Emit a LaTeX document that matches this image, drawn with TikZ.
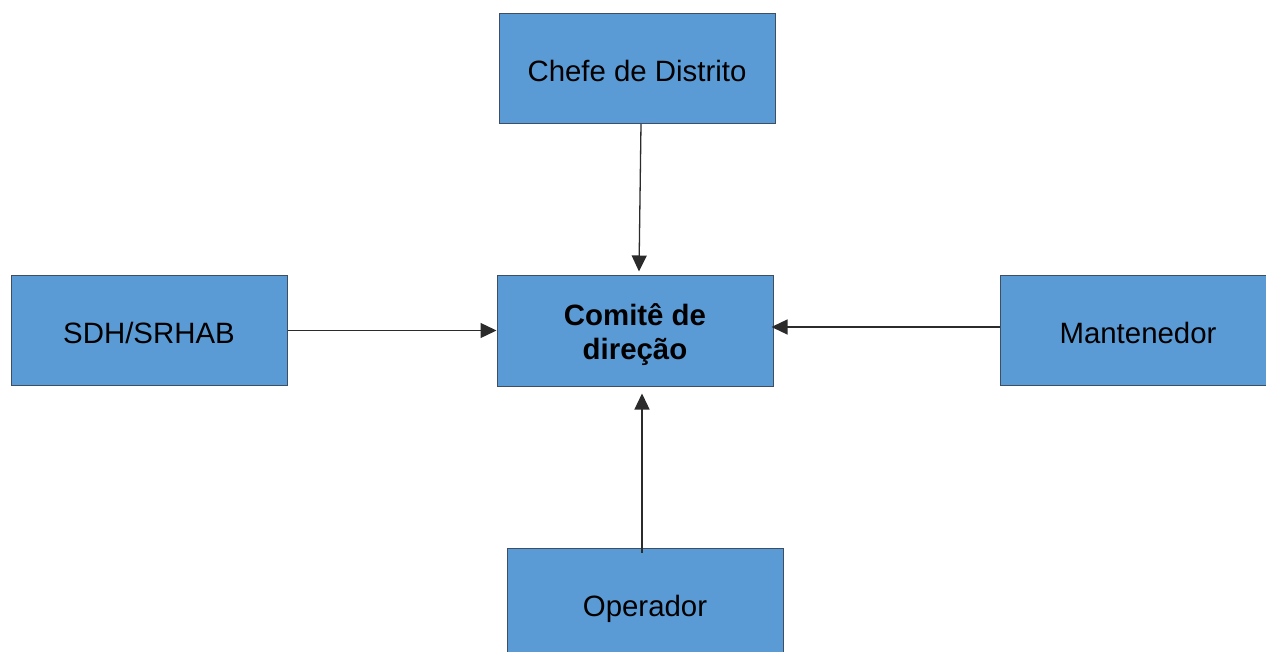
\documentclass[tikz,border=0pt]{standalone}
\usepackage{fontspec}
\setmainfont{Liberation Sans}
\usetikzlibrary{arrows.meta}
\definecolor{boxfill}{HTML}{5B9BD5}
\definecolor{boxline}{HTML}{3E4F63}
\definecolor{linkcol}{HTML}{2B2B2B}
\begin{document}
\begin{tikzpicture}[x=1pt,y=-1pt,
  unit/.style={draw=boxline,line width=1pt,fill=boxfill,minimum width=276pt,
    minimum height=110pt,inner sep=0pt,align=center,
    text height=26pt,text depth=0pt,
    font=\fontsize{29.4}{33.5}\selectfont},
  link/.style={draw=linkcol,line width=1.3pt,-{Triangle[length=16pt,width=15pt]}}]
\useasboundingbox (0,0) rectangle (1266,652);
\node[unit] (chefe) at (637,68.5) {Chefe de Distrito};
\node[unit,text height=56pt] (comite) at (635,331) {\bfseries Comitê de\\\bfseries direção};
\node[unit] (sdh) at (149,330.5) {SDH/SRHAB};
\node[unit] (mant) at (1138,330.5) {Mantenedor};
\node[unit] (oper) at (645,603) {Operador};
\draw[link] ([xshift=4pt]chefe.south) -- ([xshift=4pt,yshift=4pt]comite.north);
\draw[link] (sdh.east) -- ([yshift=0.5pt]comite.west);
\draw[link] ([yshift=3.5pt]mant.west) -- ([xshift=-2pt,yshift=4pt]comite.east);
\draw[link] ([xshift=-3pt,yshift=-5pt]oper.north) -- ([xshift=7pt,yshift=-7pt]comite.south);
\end{tikzpicture}
\end{document}
